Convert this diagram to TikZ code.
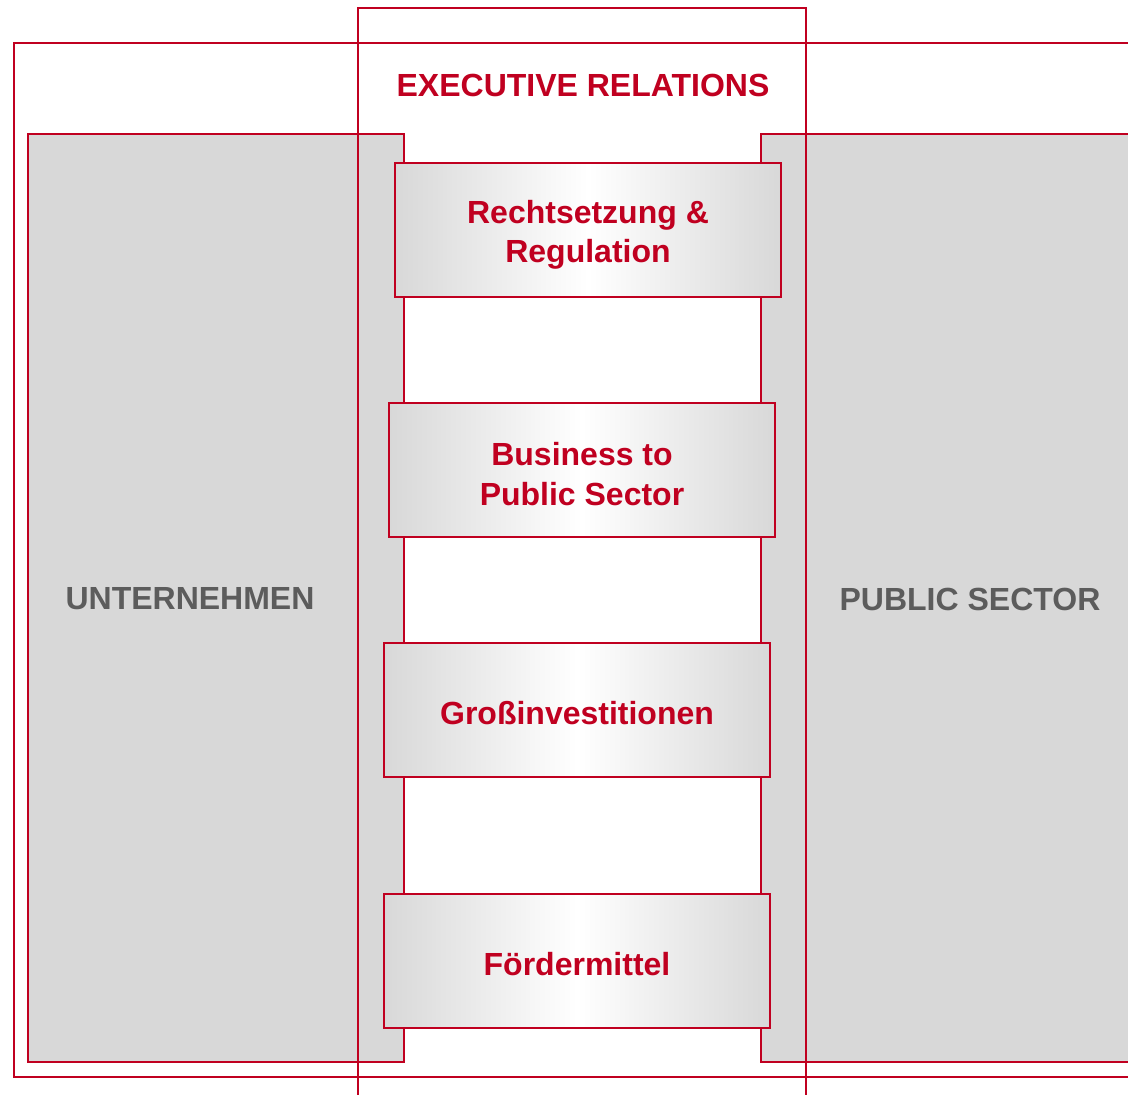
\documentclass[tikz,border=0pt]{standalone}
\usepackage{fontspec}
\setmainfont{Liberation Sans}
\definecolor{erred}{RGB}{192,0,32}
\definecolor{colgrey}{RGB}{216,216,216}
\definecolor{labgrey}{RGB}{92,92,92}
\tikzset{
  frame/.style={draw=erred, line width=1.5pt},
  side/.style={frame, fill=colgrey},
  topic/.style={frame, left color=colgrey, right color=colgrey, middle color=white,
    minimum width=289.5pt, minimum height=100.5pt, inner sep=0pt},
  topictext/.style={align=center, text=erred, font=\fontsize{24}{29.5}\selectfont\bfseries},
  sidelabel/.style={text=labgrey, font=\fontsize{24}{29}\selectfont\bfseries}
}
\begin{document}
\begin{tikzpicture}[x=0.75pt, y=-0.75pt]
    \clip (0,0) rectangle (1128,1095);
    \fill[white] (0,0) rectangle (1128,1095);
    \draw[frame] (1140,43) -- (14,43) -- (14,1077) -- (1140,1077);
    \draw[side] (28,134) rectangle (404,1062);
    \draw[side] (1140,134) -- (761,134) -- (761,1062) -- (1140,1062);
    \draw[frame] (358,1110) -- (358,8) -- (806,8) -- (806,1110);
    \node[text=erred, font=\fontsize{24}{29}\selectfont\bfseries] (er) at (583,85) {EXECUTIVE RELATIONS};
    \node[sidelabel] (unt) at (190,599) {UNTERNEHMEN};
    \node[sidelabel] (pub) at (970,599) {PUBLIC SECTOR};
    \node[topic] (recht) at (588,230) {};
    \node[topictext] (rechttext) at ([yshift=-3.5pt]recht.center) {Rechtsetzung \&\\Regulation};
    \node[topic] (b2p) at (582,470) {};
    \node[topictext] (b2ptext) at ([yshift=-3pt]b2p.center) {Business to\\Public Sector};
    \node[topic] (gross) at (577,710) {};
    \node[topictext] (grosstext) at ([yshift=-2pt]gross.center) {Großinvestitionen};
    \node[topic] (foerd) at (577,961) {};
    \node[topictext] (foerdtext) at ([yshift=-2pt]foerd.center) {Fördermittel};
  \end{tikzpicture}
\end{document}
